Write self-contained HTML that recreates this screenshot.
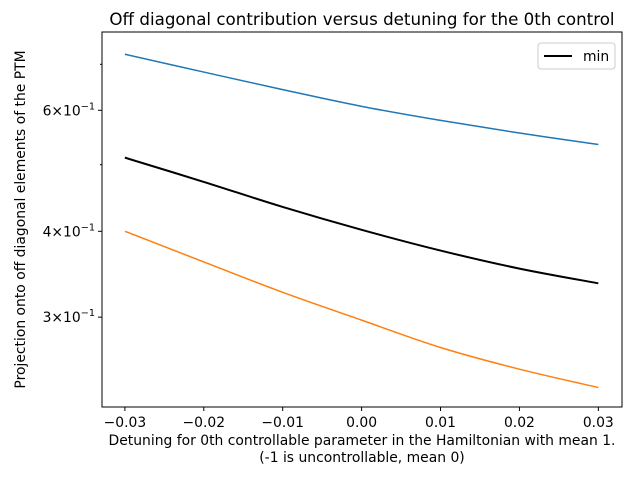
<!DOCTYPE html>
<html><head><meta charset="utf-8"><style>
body{margin:0;background:#fff}
text{font-family:"DejaVu Sans","Liberation Sans",sans-serif;fill:#000}
</style></head><body>
<svg id="chart" width="640" height="480" xmlns="http://www.w3.org/2000/svg">
<rect width="640" height="480" fill="#fff"/>
<g id="plot"></g>
</svg>
<script>
const xValues=[-0.03,-0.02,-0.01,0,0.01,0.02,0.03];
const series1=[0.724,0.682,0.643,0.608,0.580,0.556,0.535];
const seriesMin=[0.512,0.472,0.434,0.402,0.375,0.353,0.336];
const series2=[0.400,0.361,0.326,0.297,0.271,0.252,0.237];
const xTicks=[-0.03,-0.02,-0.01,0.00,0.01,0.02,0.03];
const xTickLabels=["\u22120.03","\u22120.02","\u22120.01","0.00","0.01","0.02","0.03"];
const yMajor=[0.6,0.4,0.3];
const yMajorMant=["6","4","3"];
const yMinor=[0.7,0.5];
const L=102,R=622,T=32,B=407;
const xMin=-0.0329,xMax=0.033,yMin=0.222,yMax=0.780;
const sx=v=>L+(v-xMin)/(xMax-xMin)*(R-L);
const sy=v=>B-(Math.log10(v)-Math.log10(yMin))/(Math.log10(yMax)-Math.log10(yMin))*(B-T);
const NS="http://www.w3.org/2000/svg";
const g=document.getElementById('plot');
function mk(tag,attrs,parent){const e=document.createElementNS(NS,tag);for(const k in attrs)e.setAttribute(k,attrs[k]);(parent||g).appendChild(e);return e;}
function smoothPath(data){
 const pts=data.map((v,i)=>[sx(xValues[i]),sy(v)]);
 let d='M'+pts[0][0]+','+pts[0][1];
 for(let i=0;i<pts.length-1;i++){
  const p0=pts[i-1]||pts[i],p1=pts[i],p2=pts[i+1],p3=pts[i+2]||p2;
  const c1=[p1[0]+(p2[0]-p0[0])/6,p1[1]+(p2[1]-p0[1])/6];
  const c2=[p2[0]-(p3[0]-p1[0])/6,p2[1]-(p3[1]-p1[1])/6];
  d+=' C'+c1+' '+c2+' '+p2;
 }
 return d;
}
function line(data,color,w,name){
 const p=mk('path',{d:smoothPath(data),fill:'none',stroke:color,'stroke-width':w});
 
 
}
line(series1,'#1f77b4',1.5,'series-blue-line');
line(seriesMin,'#000',2,'series-min-line');
line(series2,'#ff7f0e',1.5,'series-orange-line');
const frame=mk('rect',{x:L,y:T,width:R-L,height:B-T,fill:'none',stroke:'#000','stroke-width':1});


xTicks.forEach((v,i)=>{
 const x=sx(v);
 mk('line',{x1:x,x2:x,y1:B,y2:B+4,stroke:'#000'});
 const t=mk('text',{x:x,y:B+20,'text-anchor':'middle','font-size':13.9});
 t.textContent=xTickLabels[i];
 
 
});
yMajor.forEach((v,i)=>{
 const y=sy(v);
 mk('line',{x1:L-4,x2:L,y1:y,y2:y,stroke:'#000'});
 const t=mk('text',{x:L-7,y:y+5,'text-anchor':'end','font-size':13.9});
 t.innerHTML=yMajorMant[i]+'\u00d710<tspan dy="-6" font-size="9.7">\u22121</tspan>';
 
 
});
yMinor.forEach(v=>{const y=sy(v);mk('line',{x1:L-2,x2:L,y1:y,y2:y,stroke:'#000'});});
const title=mk('text',{x:(L+R)/2,y:T-7,'text-anchor':'middle','font-size':16.7});
title.textContent='Off diagonal contribution versus detuning for the 0th control';


const xl=mk('text',{x:(L+R)/2,y:445,'text-anchor':'middle','font-size':13.9});
xl.textContent='Detuning for 0th controllable parameter in the Hamiltonian with mean 1.';


const xl2=mk('text',{x:(L+R)/2,y:462,'text-anchor':'middle','font-size':13.9});
xl2.textContent='(-1 is uncontrollable, mean 0)';


const yl=mk('text',{x:0,y:0,'text-anchor':'middle','font-size':13.9,transform:'translate(25,'+((T+B)/2)+') rotate(-90)'});
yl.textContent='Projection onto off diagonal elements of the PTM';


const lg=mk('g',{});


mk('rect',{x:538,y:43,width:77,height:26,rx:3,fill:'#fff',stroke:'#ccc'},lg);
mk('line',{x1:544,x2:572,y1:56,y2:56,stroke:'#000','stroke-width':2},lg);
const lt=mk('text',{x:583,y:61,'font-size':13.9},lg);
lt.textContent='min';


</script>
</body></html>
